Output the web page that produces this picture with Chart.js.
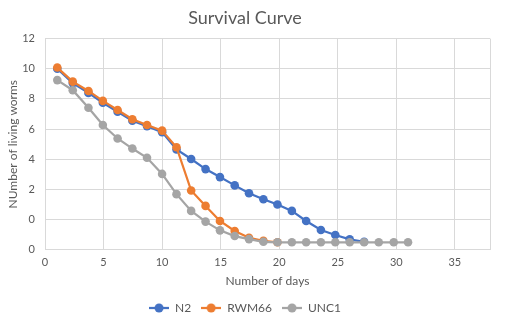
<!DOCTYPE html>
<html lang="en">
<head>
    <meta charset="UTF-8">
    <title>Survival Curve</title>
    <script src="https://cdn.jsdelivr.net/npm/chart.js"></script>
    <style>
        body {
            margin: 0;
            padding: 0;
            background: #ffffff;
        }
        .chart-box {
            width: 513px;
            height: 332px;
            position: relative;
        }
    </style>
</head>
<body>
<div class="chart-box">
    <canvas id="survivalChart"></canvas>
</div>
<script>
    // days (x values) shared by the three strains
    const days = [1.05, 2.37, 3.71, 4.94, 6.2, 7.46, 8.71, 10.0, 11.23, 12.48, 13.71, 14.94, 16.2,
        17.42, 18.65, 19.85, 21.08, 22.3, 23.56, 24.79, 26.02, 27.25, 28.5, 29.78, 31.0];

    const n2 = [10.0, 9.05, 8.4, 7.75, 7.15, 6.55, 6.2, 5.8, 4.65, 4.02, 3.35, 2.82, 2.27,
        1.75, 1.35, 1.0, 0.58, -0.09, -0.69, -1.02, -1.31, -1.47];
    const rwm66 = [10.08, 9.15, 8.53, 7.87, 7.27, 6.65, 6.27, 5.9, 4.8, 1.93, 0.91, -0.09, -0.75,
        -1.2, -1.4, -1.5];
    const unc1 = [9.25, 8.58, 7.42, 6.27, 5.38, 4.71, 4.1, 3.03, 1.69, 0.58, -0.13, -0.71, -1.09,
        -1.29, -1.47, -1.5, -1.5, -1.5, -1.5, -1.5, -1.5, -1.5, -1.5, -1.5, -1.5];

    const seriesNames = ['N2', 'RWM66', 'UNC1'];
    const seriesColors = ['#4472C4', '#ED7D31', '#A5A5A5'];

    // y axis labels as printed on the original
    const yTickValues = [-2, 0, 2, 4, 6, 8, 10, 12];
    const yTickLabels = ['0', '0', '2', '4', '6', '8', '10', '12'];

    const textColor = '#595959';
    const gridColor = '#D9D9D9';
    const fontFamily = 'Lato, "Open Sans", sans-serif';

    function toPoints(values) {
        return values.map((v, i) => ({ x: days[i], y: v }));
    }

    // legend marker: short line with a dot in the middle
    function legendMarker(color) {
        const c = document.createElement('canvas');
        c.width = 20;
        c.height = 10;
        const g = c.getContext('2d');
        g.strokeStyle = color;
        g.lineWidth = 2.25;
        g.beginPath();
        g.moveTo(0, 5);
        g.lineTo(20, 5);
        g.stroke();
        g.fillStyle = color;
        g.beginPath();
        g.arc(10, 5, 4.5, 0, Math.PI * 2);
        g.fill();
        return c;
    }

    const allSeries = [n2, rwm66, unc1];
    const datasets = allSeries.map((values, i) => ({
        label: seriesNames[i],
        data: toPoints(values),
        showLine: true,
        borderColor: seriesColors[i],
        backgroundColor: seriesColors[i],
        borderWidth: 2.25,
        pointRadius: 4.3,
        pointBorderWidth: 0,
        pointHoverRadius: 4.3,
        tension: 0,
        order: allSeries.length - i // later series on top, like Excel
    }));

    const markers = seriesColors.map(legendMarker);

    new Chart(document.getElementById('survivalChart').getContext('2d'), {
        type: 'scatter',
        data: { datasets: datasets },
        options: {
            responsive: true,
            maintainAspectRatio: false,
            animation: false,
            layout: {
                padding: { left: 0, right: 23, top: 0, bottom: 8 }
            },
            plugins: {
                title: {
                    display: true,
                    text: 'Survival Curve',
                    color: textColor,
                    font: { family: fontFamily, size: 18, weight: 'normal' },
                    padding: { top: 7, bottom: 10 }
                },
                legend: {
                    position: 'bottom',
                    labels: {
                        color: textColor,
                        font: { family: fontFamily, size: 12 },
                        usePointStyle: true,
                        pointStyleWidth: 20,
                        padding: 10,
                        boxHeight: 10,
                        sort: (a, b) => a.datasetIndex - b.datasetIndex,
                        generateLabels: function(chart) {
                            const items = Chart.defaults.plugins.legend.labels.generateLabels(chart);
                            items.forEach(item => {
                                item.pointStyle = markers[item.datasetIndex];
                            });
                            return items;
                        }
                    }
                },
                tooltip: { enabled: false }
            },
            scales: {
                x: {
                    type: 'linear',
                    min: 0,
                    max: 38,
                    ticks: {
                        stepSize: 5,
                        color: textColor,
                        font: { family: fontFamily, size: 11 },
                        maxRotation: 0,
                        padding: 6,
                        callback: function(value) {
                            return value % 5 === 0 ? value : '';
                        }
                    },
                    grid: { color: gridColor, drawTicks: false },
                    border: { display: false },
                    title: {
                        display: true,
                        text: 'Number of days',
                        color: textColor,
                        font: { family: fontFamily, size: 12, lineHeight: 1 },
                        padding: { top: 0, bottom: 5 }
                    }
                },
                y: {
                    min: -2,
                    max: 12,
                    afterBuildTicks: function(scale) {
                        scale.ticks = yTickValues.map(v => ({ value: v }));
                    },
                    afterFit: function(scale) {
                        scale.width = 45;
                    },
                    ticks: {
                        color: textColor,
                        font: { family: fontFamily, size: 11 },
                        padding: 10,
                        callback: function(value) {
                            const idx = yTickValues.indexOf(value);
                            return idx >= 0 ? yTickLabels[idx] : '';
                        }
                    },
                    grid: { color: gridColor, drawTicks: false },
                    border: { display: false },
                    title: {
                        display: true,
                        text: 'NUmber of living worms',
                        color: textColor,
                        font: { family: fontFamily, size: 12 },
                        padding: { top: 6, bottom: 2 }
                    }
                }
            }
        }
    });
</script>
</body>
</html>
